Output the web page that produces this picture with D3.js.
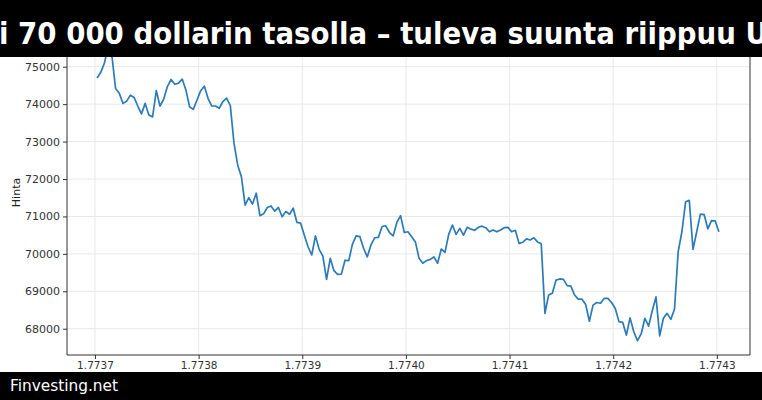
<!DOCTYPE html>
<html>
<head>
<meta charset="utf-8">
<script src="https://cdn.jsdelivr.net/npm/d3@7"></script>
<style>
  html, body { margin: 0; padding: 0; background: #fff; }
  svg { display: block; }
</style>
</head>
<body>
<svg id="chart" width="762" height="400"></svg>
<script>
// ---- data ----
const titleText = "i 70 000 dollarin tasolla – tuleva suunta riippuu U";
const footerText = "Finvesting.net";
const yLabel = "Hinta";
const xTickValues = [1.7737, 1.7738, 1.7739, 1.7740, 1.7741, 1.7742, 1.7743];
const yTickValues = [68000, 69000, 70000, 71000, 72000, 73000, 74000, 75000];
const timeStart = 1.773702;   // first sample (×1e9 s)
const timeEnd = 1.774302;     // last sample (×1e9 s)
const prices = [
  74700, 74850, 75100, 75550, 75300, 74420, 74290, 74020, 74080, 74240,
  74180, 73950, 73740, 74020, 73710, 73660, 74360, 73950, 74130, 74470,
  74660, 74530, 74560, 74670, 74380, 73930, 73860, 74110, 74360, 74480,
  74150, 73950, 73950, 73890, 74070, 74160, 73960, 72950, 72370, 72060,
  71300, 71500, 71330, 71620, 71020, 71070, 71240, 71280, 71140, 71240,
  70990, 71130, 71060, 71220, 70840, 70820, 70500, 70190, 69970, 70480,
  70120, 69940, 69320, 69880, 69550, 69450, 69460, 69830, 69820, 70260,
  70480, 70460, 70150, 69920, 70240, 70430, 70440, 70730, 70750, 70570,
  70480, 70840, 71020, 70570, 70590, 70460, 70320, 69880, 69750, 69820,
  69850, 69920, 69750, 70130, 70040, 70520, 70770, 70520, 70680, 70500,
  70710, 70660, 70630, 70710, 70740, 70700, 70590, 70640, 70590, 70640,
  70700, 70710, 70590, 70630, 70280, 70310, 70400, 70370, 70430, 70320,
  70270, 68410, 68900, 68950, 69300, 69330, 69320, 69150, 69140, 68900,
  68790, 68790, 68650, 68200, 68630, 68700, 68680, 68810, 68810, 68700,
  68540, 68190, 68170, 67830, 68290, 67920, 67680, 67860, 68280, 68070,
  68480, 68850, 67810, 68280, 68410, 68250, 68520, 70060, 70590, 71390,
  71430, 70120, 70590, 71060, 71050, 70670, 70890, 70880, 70590
];

// ---- layout ----
const W = 762, H = 400;
const plot = { left: 67, right: 750, top: 20, bottom: 355 };

const svg = d3.select("#chart");
const step = (timeEnd - timeStart) / (prices.length - 1);
const data = prices.map((p, i) => ({ t: timeStart + i * step, p }));

const x = d3.scaleLinear().domain([1.773673, 1.774332]).range([plot.left, plot.right]);
const y = d3.scaleLinear().domain([67298, 76248]).range([plot.bottom, plot.top]);

// grid
const g = svg.append("g");
g.append("g").selectAll("line").data(xTickValues).join("line")
  .attr("x1", d => x(d)).attr("x2", d => x(d))
  .attr("y1", plot.top).attr("y2", plot.bottom)
  .attr("stroke", "#e8e8e8").attr("stroke-width", 1);
g.append("g").selectAll("line").data(yTickValues).join("line")
  .attr("x1", plot.left).attr("x2", plot.right)
  .attr("y1", d => y(d)).attr("y2", d => y(d))
  .attr("stroke", "#e8e8e8").attr("stroke-width", 1);

// line
svg.append("defs").append("clipPath").attr("id", "clip")
  .append("rect").attr("x", plot.left).attr("y", plot.top)
  .attr("width", plot.right - plot.left).attr("height", plot.bottom - plot.top);

svg.append("path")
  .datum(data)
  .attr("clip-path", "url(#clip)")
  .attr("fill", "none")
  .attr("stroke", "#2b7bba")
  .attr("stroke-width", 1.7)
  .attr("stroke-linejoin", "round")
  .attr("d", d3.line().x(d => x(d.t)).y(d => y(d.p)));

// axes
const font = "DejaVu Sans, sans-serif";
const xAxis = svg.append("g").attr("transform", `translate(0,${plot.bottom})`)
  .call(d3.axisBottom(x).tickValues(xTickValues).tickFormat(d3.format(".4f")).tickSizeOuter(0).tickSize(4).tickPadding(3));
const yAxis = svg.append("g").attr("transform", `translate(${plot.left},0)`)
  .call(d3.axisLeft(y).tickValues(yTickValues).tickFormat(d3.format("d")).tickSizeOuter(0).tickSize(4).tickPadding(3));
[xAxis, yAxis].forEach(a => {
  a.select(".domain").remove();
  a.selectAll(".tick line").attr("stroke", "#333");
  a.selectAll(".tick text").attr("fill", "#333").style("font-family", font).style("font-size", "11px");
});
xAxis.selectAll(".tick text").style("font-size", "10.5px");

// spines
svg.append("line").attr("x1", plot.left).attr("x2", plot.left).attr("y1", plot.top).attr("y2", plot.bottom).attr("stroke", "#333");
svg.append("line").attr("x1", plot.left).attr("x2", plot.right).attr("y1", plot.bottom).attr("y2", plot.bottom).attr("stroke", "#333");
svg.append("line").attr("x1", plot.right).attr("x2", plot.right).attr("y1", plot.top).attr("y2", plot.bottom).attr("stroke", "#333");
svg.append("line").attr("x1", plot.left).attr("x2", plot.right).attr("y1", plot.top).attr("y2", plot.top).attr("stroke", "#333");

// y label
svg.append("text")
  .attr("transform", `translate(20,${(plot.top + plot.bottom) / 2 + 5}) rotate(-90)`)
  .attr("text-anchor", "middle")
  .style("font-family", font).style("font-size", "11px").attr("fill", "#222")
  .text(yLabel);

// title bar
svg.append("rect").attr("x", 0).attr("y", 0).attr("width", W).attr("height", 57).attr("fill", "#000");
svg.append("text")
  .attr("x", -1).attr("y", 43.5)
  .attr("textLength", 769).attr("lengthAdjust", "spacingAndGlyphs")
  .style("font-family", font).style("font-weight", "bold").style("font-size", "30px")
  .attr("fill", "#fff")
  .text(titleText);

// footer bar
svg.append("rect").attr("x", 0).attr("y", 372).attr("width", W).attr("height", H - 372).attr("fill", "#000");
svg.append("text")
  .attr("x", 10).attr("y", 391)
  .attr("textLength", 108).attr("lengthAdjust", "spacingAndGlyphs")
  .style("font-family", font).style("font-size", "16px")
  .attr("fill", "#fff")
  .text(footerText);
</script>
</body>
</html>
